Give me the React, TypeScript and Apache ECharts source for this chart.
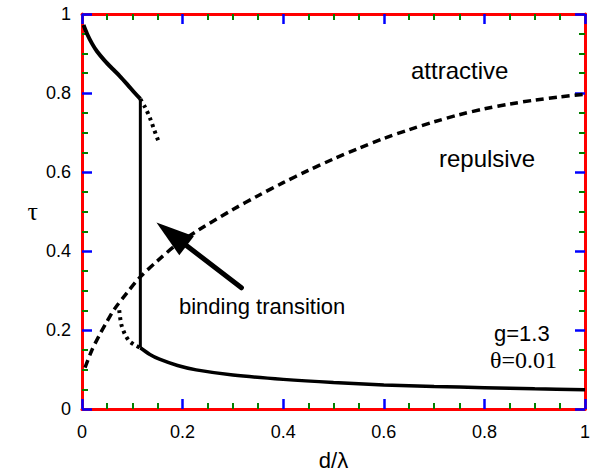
import React, { useEffect, useRef } from "react";
import * as echarts from "echarts";

const xTickValues = [0, 0.2, 0.4, 0.6, 0.8, 1];
const xTickLabels = ["0", "0.2", "0.4", "0.6", "0.8", "1"];
const yTickValues = [0, 0.2, 0.4, 0.6, 0.8, 1];
const yTickLabels = ["0", "0.2", "0.4", "0.6", "0.8", "1"];

const upperSolid: [number, number][] = [
  [0.003, 0.972], [0.01, 0.95], [0.02, 0.925], [0.03, 0.905], [0.045, 0.882],
  [0.06, 0.862], [0.075, 0.843], [0.09, 0.822], [0.105, 0.8], [0.116, 0.785],
];
const upperDotted: [number, number][] = [
  [0.116, 0.785], [0.125, 0.765], [0.135, 0.737], [0.144, 0.705], [0.152, 0.678],
];
const transition: [number, number][] = [[0.116, 0.785], [0.116, 0.155]];
const lowerDotted: [number, number][] = [
  [0.074, 0.25], [0.078, 0.215], [0.085, 0.19], [0.094, 0.172], [0.105, 0.162], [0.116, 0.155],
];
const lowerSolid: [number, number][] = [
  [0.116, 0.155], [0.135, 0.138], [0.154, 0.126], [0.19, 0.11], [0.227, 0.099],
  [0.3, 0.086], [0.4, 0.075], [0.5, 0.067], [0.6, 0.061], [0.7, 0.057],
  [0.8, 0.054], [0.9, 0.051], [1.0, 0.049],
];
const boundary: [number, number][] = [
  [0.006, 0.105], [0.02, 0.15], [0.035, 0.188], [0.05, 0.222], [0.065, 0.254],
  [0.09, 0.295], [0.114, 0.332], [0.15, 0.375], [0.187, 0.415], [0.234, 0.455],
  [0.3, 0.505], [0.35, 0.54], [0.4, 0.573], [0.45, 0.604], [0.5, 0.633],
  [0.55, 0.66], [0.6, 0.685], [0.65, 0.707], [0.7, 0.727], [0.75, 0.745],
  [0.8, 0.76], [0.85, 0.772], [0.9, 0.782], [0.95, 0.79], [1.0, 0.797],
];
const arrow: [number, number, number, number][] = [[0.317, 0.307, 0.148, 0.472]];

const SANS = "Liberation Sans";
const SERIF = "Liberation Serif";
const INK = "#000000";

function fmt(labels: string[], values: number[]) {
  return (v: number) => {
    const i = values.findIndex((t) => Math.abs(t - v) < 1e-6);
    return i >= 0 ? labels[i] : "";
  };
}

function makeAxis(position: string, extra: any) {
  return {
    type: "value",
    position,
    min: 0,
    max: 1,
    interval: 0.2,
    axisLine: { show: true, onZero: false, lineStyle: { color: "red", width: 3 } },
    axisTick: { show: true, inside: true, length: 10, lineStyle: { color: "blue", width: 2.5 } },
    minorTick: { show: true, splitNumber: 4, length: 6, lineStyle: { color: "green", width: 2 } },
    splitLine: { show: false },
    minorSplitLine: { show: false },
    ...extra,
  };
}

export default function App() {
  const ref = useRef<HTMLDivElement>(null);
  useEffect(() => {
    if (!ref.current) return;
    const chart = echarts.init(ref.current, null, { renderer: "svg" });
    const lineSeries = (data: [number, number][], width: number, dash: any, smooth: number | boolean) => ({
      type: "line",
      data,
      showSymbol: false,
      smooth,
      lineStyle: { color: INK, width, type: dash },
      itemStyle: { color: INK },
      silent: true,
      z: 3,
    });
    chart.setOption({
      animation: false,
      grid: { left: 82, right: 10, top: 14, bottom: 64 },
      xAxis: [
        makeAxis("bottom", {
          name: "d/λ",
          nameLocation: "middle",
          nameGap: 40,
          nameTextStyle: { color: INK, fontSize: 22, fontFamily: SANS },
          axisLabel: { show: true, color: INK, fontSize: 18, fontFamily: SANS, margin: 14, formatter: fmt(xTickLabels, xTickValues) },
        }),
        makeAxis("top", { axisLabel: { show: false } }),
      ],
      yAxis: [
        makeAxis("left", {
          name: "τ",
          nameLocation: "middle",
          nameRotate: 0,
          nameGap: 44,
          nameTextStyle: { color: INK, fontSize: 26, fontFamily: SERIF },
          axisLabel: { show: true, color: INK, fontSize: 18, fontFamily: SANS, margin: 11, formatter: fmt(yTickLabels, yTickValues) },
        }),
        makeAxis("right", { axisLabel: { show: false } }),
      ],
      series: [
        lineSeries(boundary, 3.5, [8, 5], 0.3),
        lineSeries(upperSolid, 4, "solid", 0.3),
        lineSeries(upperDotted, 4, [3, 4], 0.3),
        lineSeries(transition, 3, "solid", false),
        lineSeries(lowerDotted, 4, [3, 4], 0.3),
        lineSeries(lowerSolid, 3.5, "solid", 0.3),
        {
          type: "custom",
          data: arrow,
          silent: true,
          z: 4,
          renderItem: (params: any, api: any) => {
            const t = api.coord([api.value(0), api.value(1)]);
            const h = api.coord([api.value(2), api.value(3)]);
            const dx = h[0] - t[0];
            const dy = h[1] - t[1];
            const len = Math.sqrt(dx * dx + dy * dy);
            const ux = dx / len;
            const uy = dy / len;
            const headLen = 38;
            const headHalf = 12;
            const bx = h[0] - ux * headLen;
            const by = h[1] - uy * headLen;
            const px = -uy;
            const py = ux;
            return {
              type: "group",
              children: [
                {
                  type: "line",
                  shape: { x1: t[0], y1: t[1], x2: bx + ux * 4, y2: by + uy * 4 },
                  style: { stroke: INK, lineWidth: 5, lineCap: "round" },
                },
                {
                  type: "polygon",
                  shape: {
                    points: [
                      [h[0], h[1]],
                      [bx + px * headHalf, by + py * headHalf],
                      [bx - px * headHalf, by - py * headHalf],
                    ],
                  },
                  style: { fill: INK },
                },
              ],
            };
          },
        },
      ],
      graphic: [
        { type: "text", left: 411, top: 58, style: { text: "attractive", fill: INK, fontSize: 24, fontFamily: SANS } },
        { type: "text", left: 439, top: 146, style: { text: "repulsive", fill: INK, fontSize: 24, fontFamily: SANS } },
        { type: "text", left: 179, top: 295, style: { text: "binding transition", fill: INK, fontSize: 22, fontFamily: SANS } },
        { type: "text", left: 494, top: 322, style: { text: "g=1.3", fill: INK, fontSize: 22, fontFamily: SANS } },
        { type: "text", left: 490, top: 348, style: { text: "θ=0.01", fill: INK, fontSize: 24, fontFamily: SERIF } },
      ],
    });
    return () => chart.dispose();
  }, []);
  return <div ref={ref} style={{ position: "absolute", left: 0, top: 0, width: 595, height: 476, background: "#ffffff" }} />;
}
